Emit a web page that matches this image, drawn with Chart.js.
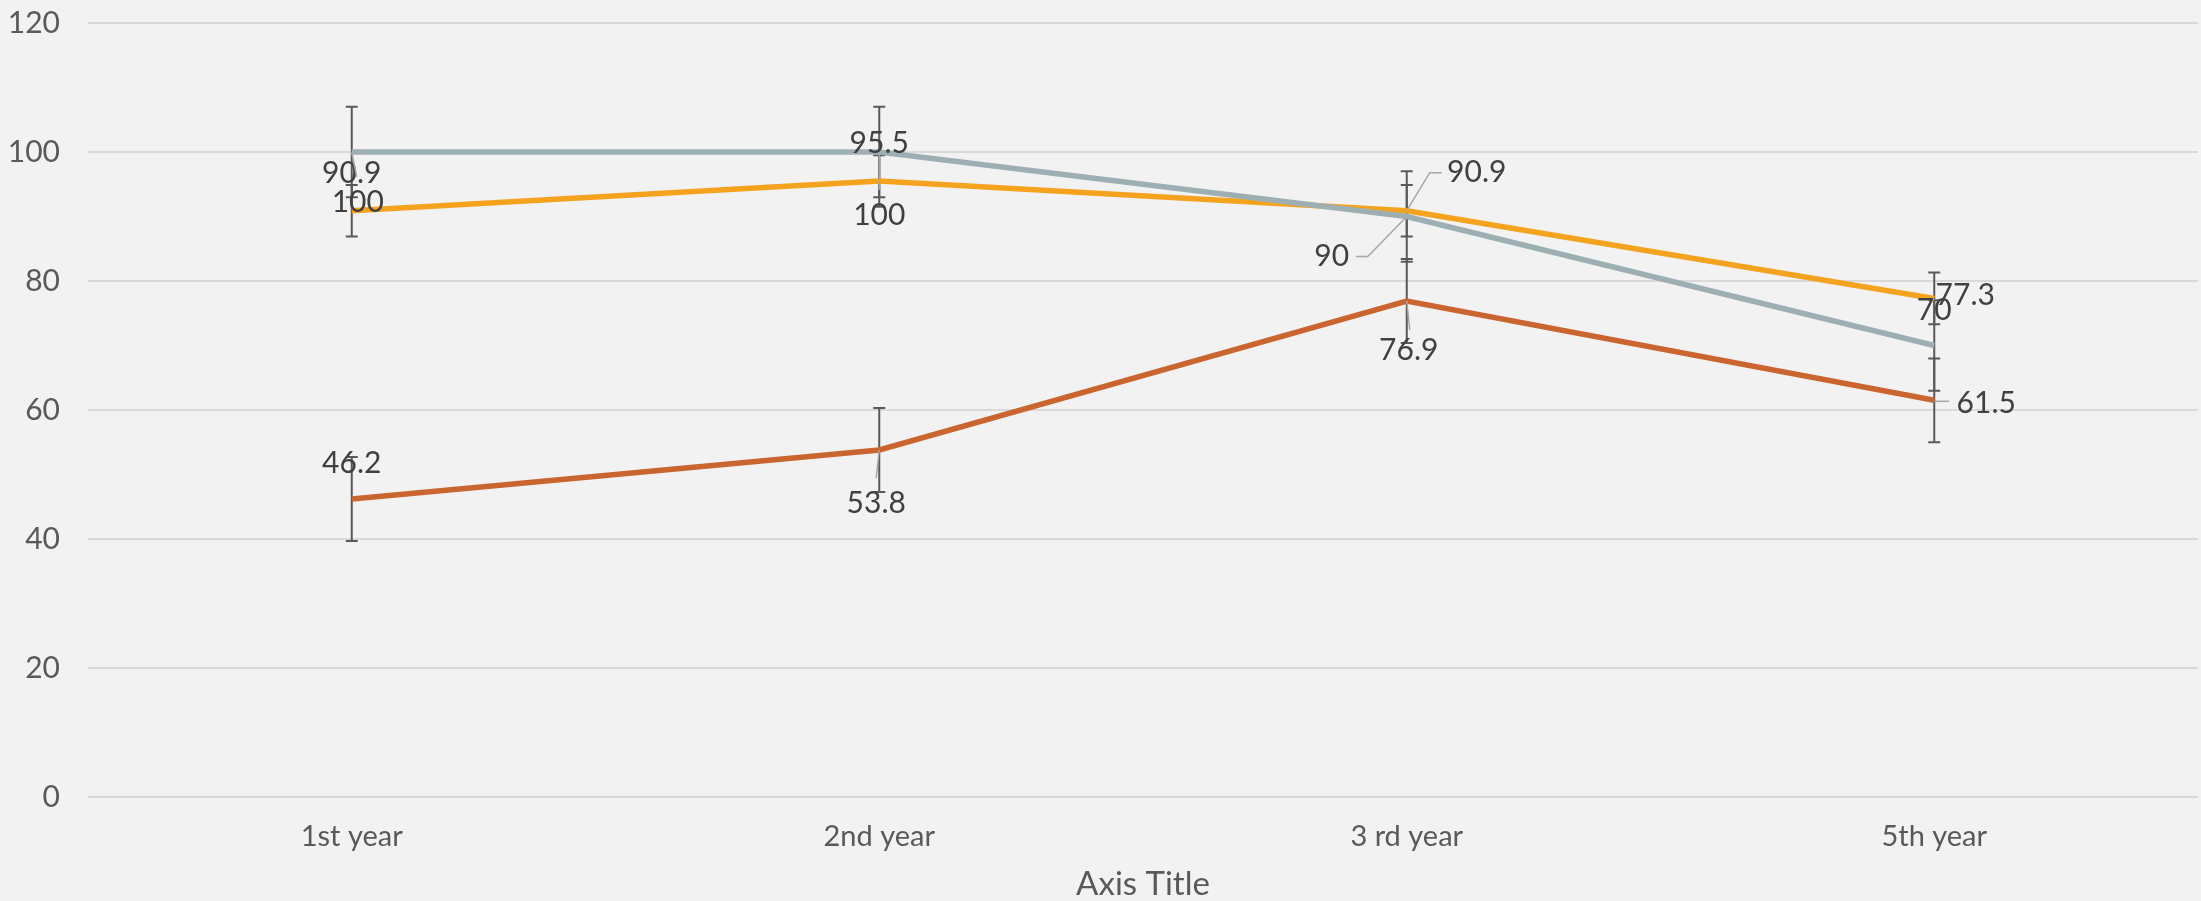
<!DOCTYPE html>
<html>
<head>
<meta charset="utf-8">
<script src="https://cdn.jsdelivr.net/npm/chart.js@4.4.1/dist/chart.umd.min.js"></script>
<style>
  html, body { margin: 0; padding: 0; background: #F2F2F2; }
  #wrap { width: 2201px; height: 901px; }
</style>
</head>
<body>
<div id="wrap"><canvas id="chart"></canvas></div>
<script>
// data
const categories = ["1st year", "2nd year", "3 rd year", "5th year"];
const grayValues = [100, 100, 90, 70];
const orangeValues = [90.9, 95.5, 90.9, 77.3];
const redValues = [46.2, 53.8, 76.9, 61.5];
const grayErr = [7, 7, 7, 7];
const orangeErr = [4, 4, 4, 4];
const redErr = [6.5, 6.5, 6.5, 6.5];
const yMin = 0, yMax = 120, yStep = 20;

// where each data label sits relative to its point (px), plus optional leader line
const labelPlace = {
    gray: [
        { dx: 6, dy: 50, leader: [[0, 0], [5, 25]] },
        { dx: 0, dy: 63, leader: [[0, 1], [0, 38]] },
        { dx: -75, dy: 40, leader: [[0, 0], [-39, 40], [-51, 40]] },
        { dx: 0, dy: -35 }
    ],
    orange: [
        { dx: 0, dy: -37 },
        { dx: 0, dy: -38 },
        { dx: 70, dy: -38, leader: [[0, 0], [23, -38], [35, -38]] },
        { dx: 31, dy: -3 }
    ],
    red: [
        { dx: 0, dy: -36 },
        { dx: -3, dy: 53, leader: [[0, 0], [-3, 28]] },
        { dx: 2, dy: 49, leader: [[0, 0], [3, 29]] },
        { dx: 52, dy: 3, leader: [[0, 1], [15, 1]] }
    ]
};

const FONT = "Lato, 'Open Sans', sans-serif";

const errorBars = {
    id: "errorBars",
    beforeDatasetsDraw(chart) {
        const ctx = chart.ctx;
        const y = chart.scales.y;
        ctx.save();
        ctx.strokeStyle = "#595959";
        ctx.lineWidth = 2;
        chart.data.datasets.forEach((ds, di) => {
            const meta = chart.getDatasetMeta(di);
            meta.data.forEach((pt, i) => {
                const v = ds.data[i], e = ds.err[i];
                const top = y.getPixelForValue(v + e);
                const bot = y.getPixelForValue(v - e);
                ctx.beginPath();
                ctx.moveTo(pt.x, top); ctx.lineTo(pt.x, bot);
                ctx.moveTo(pt.x - 6, top); ctx.lineTo(pt.x + 6, top);
                ctx.moveTo(pt.x - 6, bot); ctx.lineTo(pt.x + 6, bot);
                ctx.stroke();
            });
        });
        ctx.restore();
    }
};

const dataLabels = {
    id: "dataLabels",
    afterDatasetsDraw(chart) {
        const ctx = chart.ctx;
        ctx.save();
        chart.data.datasets.forEach((ds, di) => {
            const meta = chart.getDatasetMeta(di);
            const places = labelPlace[ds.key];
            meta.data.forEach((pt, i) => {
                const p = places[i];
                if (p.leader) {
                    ctx.strokeStyle = "#A6A6A6";
                    ctx.lineWidth = 1.5;
                    ctx.beginPath();
                    p.leader.forEach((q, k) => {
                        if (k === 0) ctx.moveTo(pt.x + q[0], pt.y + q[1]);
                        else ctx.lineTo(pt.x + q[0], pt.y + q[1]);
                    });
                    ctx.stroke();
                }
                ctx.fillStyle = "#404040";
                ctx.font = "30px " + FONT;
                ctx.textAlign = "center";
                ctx.textBaseline = "middle";
                ctx.fillText(String(ds.data[i]), pt.x + p.dx, pt.y + p.dy);
            });
        });
        ctx.restore();
    }
};

let ctx = document.getElementById("chart").getContext("2d");
let chart = new Chart(ctx, {
    type: "line",
    data: {
        labels: categories,
        datasets: [
            { key: "red", label: "Series 3", data: redValues, err: redErr, borderColor: "#CB6530", borderWidth: 5.5, pointRadius: 0, fill: false, order: 3 },
            { key: "orange", label: "Series 2", data: orangeValues, err: orangeErr, borderColor: "#F5A31F", borderWidth: 5.5, pointRadius: 0, fill: false, order: 2 },
            { key: "gray", label: "Series 1", data: grayValues, err: grayErr, borderColor: "#9EAFB4", borderWidth: 5.5, pointRadius: 0, fill: false, order: 1 }
        ]
    },
    options: {
        responsive: true,
        maintainAspectRatio: false,
        animation: false,
        devicePixelRatio: 1,
        layout: { padding: { top: 23, right: 3, left: 0, bottom: 0 } },
        plugins: {
            legend: { display: false },
            tooltip: { enabled: false }
        },
        scales: {
            x: {
                offset: true,
                grid: { display: false, drawTicks: false },
                border: { display: false },
                ticks: { color: "#595959", font: { family: FONT, size: 29 }, padding: 22 },
                title: {
                    display: true, text: "Axis Title", color: "#595959",
                    font: { family: FONT, size: 33, lineHeight: 1.0 }, padding: { top: 6, bottom: 0 }
                },
                afterFit(scale) { scale.height = 104; }
            },
            y: {
                min: yMin, max: yMax,
                grid: { color: "#D9D9D9", lineWidth: 2, drawTicks: false },
                border: { display: false },
                ticks: { stepSize: yStep, color: "#595959", font: { family: FONT, size: 30 }, padding: 28 },
                afterFit(scale) {
                    scale.width = 88;
                    scale.paddingTop = 0;
                    scale.paddingBottom = 0;
                }
            }
        }
    },
    plugins: [errorBars, dataLabels]
});
</script>
</body>
</html>
